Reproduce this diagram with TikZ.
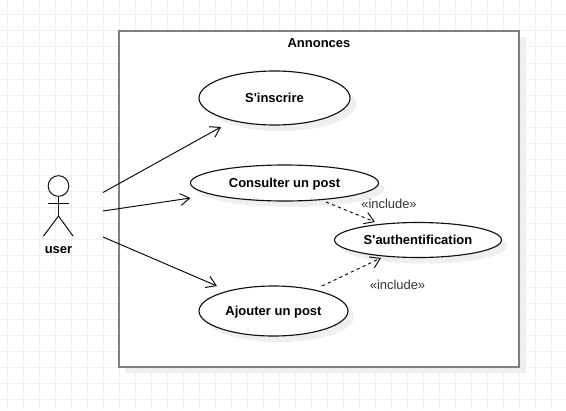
\documentclass[tikz,border=0pt]{standalone}
\usepackage{fontspec}
\setmainfont{Liberation Sans}
\usetikzlibrary{shapes.geometric,arrows.meta,shadows}
\definecolor{gridc}{HTML}{F0F0F0}
\definecolor{framec}{HTML}{808080}
\definecolor{shadowc}{HTML}{EFEFEF}
\definecolor{inkc}{HTML}{111111}
\tikzset{
  usecase/.style={ellipse,draw=inkc,fill=white,line width=0.85pt,inner sep=0pt,outer sep=0pt,
    font=\fontsize{9.75pt}{11pt}\selectfont\bfseries,text height=7pt,text depth=1pt,
    general shadow={shadow xshift=4.5pt,shadow yshift=-4.5pt,fill=shadowc}},
  assoc/.style={draw=inkc,line width=0.75pt,-{Straight Barb[length=7pt,width=9pt,line width=0.75pt]}},
  incl/.style={assoc,dash pattern=on 2.4pt off 2.4pt},
  stereo/.style={font=\fontsize{9.7pt}{11pt}\selectfont,text=black!80,inner sep=0pt},
  limb/.style={draw=inkc,line width=0.75pt},
}
\begin{document}
\begin{tikzpicture}[x=0.75pt,y=-0.75pt]
\useasboundingbox (0,0) rectangle (566,410);
\fill[white] (0,0) rectangle (566,410);
% background grid
\foreach \gx in {7.5,23.5,...,567}{\draw[gridc,line width=0.75pt] (\gx,0) -- (\gx,410);}
\foreach \gy in {15,31,...,410}{\draw[gridc,line width=0.75pt] (0,\gy) -- (566,\gy);}
% system boundary
\fill[shadowc] (124.5,37) rectangle (525.5,373);
\node[draw=framec,fill=white,line width=1.5pt,outer sep=0pt,minimum width=300.25pt,minimum height=252pt,inner sep=0pt,anchor=north west] (sys) at (118.5,31) {};
\node[font=\fontsize{9.75pt}{11pt}\selectfont\bfseries,inner sep=0pt] (title) at (319,43.5) {Annonces};
% use cases
\node[usecase,minimum width=113.25pt,minimum height=40.5pt] (inscrire) at (274.5,98) {S\textquotesingle inscrire};
\node[usecase,minimum width=141pt,minimum height=27pt] (consulter) at (284.5,183) {Consulter un post};
\node[usecase,minimum width=125.25pt,minimum height=26.25pt] (auth) at (418,240) {S\textquotesingle authentification};
\node[usecase,minimum width=111.75pt,minimum height=37.5pt] (ajouter) at (273.5,311) {Ajouter un post};
% actor
\node[draw=inkc,fill=white,circle,line width=0.75pt,outer sep=0pt,minimum size=15.5pt,inner sep=0pt] (head) at (58.5,186) {};
\coordinate (hip) at (58.5,216);
\coordinate (armL) at (48,203.5);
\coordinate (armR) at (69,203.5);
\coordinate (legL) at (43.5,236);
\coordinate (legR) at (73,236);
\draw[limb] (head.south) -- (hip);
\draw[limb] (armL) -- (armR);
\draw[limb] (legL) -- (hip) -- (legR);
\node[font=\fontsize{9.75pt}{11pt}\selectfont\bfseries,inner sep=0pt] (user) at (58.5,250.5) {user};
% connector ends
\coordinate (a1) at (103,192.5);
\coordinate (a2) at (103,211);
\coordinate (a3) at (103,237);
\coordinate (t1) at (221,127);
\coordinate (t2) at (190.5,198);
\coordinate (t3) at (217,286);
\coordinate (d1s) at (326,202);
\coordinate (d1e) at (375,222);
\coordinate (d2s) at (322,286);
\coordinate (d2e) at (381,258);
\draw[assoc] (a1) -- (t1);
\draw[assoc] (a2) -- (t2);
\draw[assoc] (a3) -- (t3);
\draw[incl] (d1s) -- (d1e);
\draw[incl] (d2s) -- (d2e);
\node[stereo] (inc1) at (389,203.5) {«include»};
\node[stereo] (inc2) at (397.5,285) {«include»};
\end{tikzpicture}
\end{document}
